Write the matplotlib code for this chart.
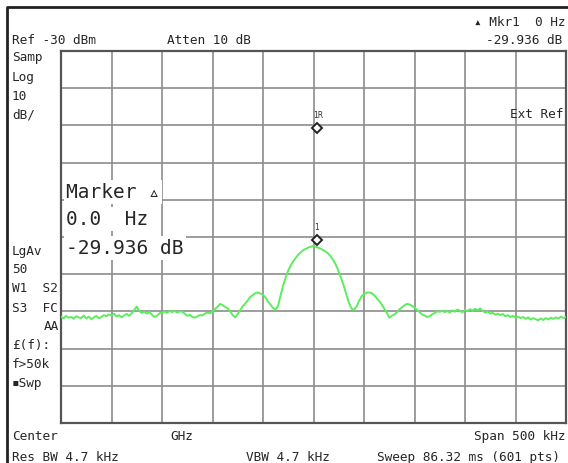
import numpy as np
import matplotlib
matplotlib.use("Agg")
import matplotlib.pyplot as plt

# Analyzer settings
ref_level = -30.0       # dBm, top of screen
db_per_div = 10.0
span_khz = 500.0

# Trace, 2.5 kHz steps from -250 kHz to +250 kHz (dBm)
trace_dbm = [
    -101.4, -101.9, -101.2, -101.7, -101.5, -102.0, -101.3, -101.6, -101.8, -101.1,
    -101.9, -101.4, -102.1, -101.6, -101.2, -101.9, -101.5, -101.0, -101.3, -100.8,
    -101.1, -100.6, -101.4, -101.0, -101.6, -101.1, -100.7, -101.2, -100.5, -99.6,
    -98.7, -99.9, -100.4, -100.1, -100.6, -100.2, -100.9, -101.5, -101.2, -100.5,
    -100.3, -100.0, -100.4, -99.8, -100.2, -99.9, -100.3, -100.0, -100.1, -100.6,
    -101.2, -100.9, -101.5, -101.7, -101.3, -101.0, -101.1, -100.6, -100.3, -100.5,
    -100.0, -99.4, -98.7, -98.0, -98.3, -98.8, -99.2, -100.0, -101.0, -101.6,
    -100.7, -99.6, -98.6, -97.9, -97.0, -96.1, -95.6, -95.1, -94.9, -95.2,
    -95.5, -96.3, -97.4, -98.2, -99.1, -99.6, -98.4, -95.6, -93.0, -90.8,
    -89.0, -87.6, -86.5, -85.6, -84.7, -84.1, -83.5, -83.2, -82.8, -82.6,
    -82.4, -82.7, -82.9, -83.2, -83.6, -84.0, -84.6, -85.4, -86.4, -87.7,
    -89.3, -91.2, -93.2, -95.4, -97.6, -99.2, -99.6, -98.8, -97.2, -96.0,
    -95.3, -95.0, -94.9, -95.1, -95.6, -96.4, -97.2, -98.1, -99.2, -100.4,
    -101.7, -101.2, -100.8, -100.3, -99.5, -98.9, -98.4, -98.0, -98.1, -98.5,
    -99.0, -99.6, -100.2, -100.8, -101.1, -101.5, -101.3, -100.8, -100.4, -100.0,
    -100.1, -99.8, -100.2, -99.9, -100.3, -99.7, -100.1, -99.5, -99.9, -100.2,
    -99.6, -99.9, -99.4, -99.8, -99.3, -99.7, -99.2, -99.9, -100.3, -100.0,
    -100.6, -100.4, -100.9, -100.6, -101.0, -100.7, -101.3, -101.0, -101.5, -101.2,
    -101.7, -101.4, -101.8, -101.5, -102.0, -101.6, -102.2, -101.8, -102.1, -102.4,
    -101.9, -102.3, -101.8, -102.2, -101.7, -102.0, -101.6, -101.9, -101.4, -101.8,
    -101.5,
]

# Markers
marker_freq_khz = 3.0
marker_ref_dbm = -50.8
marker_delta_db = -29.936

freq_khz = np.linspace(-span_khz / 2, span_khz / 2, len(trace_dbm))

W, H = 568, 464
fig = plt.figure(figsize=(W / 100, H / 100), dpi=100)
fig.patch.set_facecolor("white")

# Screen area in pixels
left, right, top, bottom = 61, 566, 52, 424
ax = fig.add_axes([left / W, 1 - bottom / H, (right - left) / W, (bottom - top) / H])
ax.set_xlim(-span_khz / 2, span_khz / 2)
ax.set_ylim(ref_level - 10 * db_per_div, ref_level)
ax.set_xticks(np.linspace(-span_khz / 2, span_khz / 2, 11))
ax.set_yticks(np.linspace(ref_level - 10 * db_per_div, ref_level, 11))
ax.tick_params(length=0, labelbottom=False, labelleft=False)
ax.grid(True, color="#8c8c8c", lw=1.2)
ax.set_axisbelow(True)
for s in ax.spines.values():
    s.set_color("#555555")
    s.set_linewidth(1.6)

ax.plot(freq_khz, trace_dbm, color="#5ced5c", lw=1.4, zorder=3)

# Markers
m1 = marker_ref_dbm + marker_delta_db
ax.plot([marker_freq_khz, marker_freq_khz], [marker_ref_dbm, m1], ls="none",
        marker="D", ms=5, mfc="white", mec="#222222", mew=1.4, zorder=5)
ax.annotate("1R", (marker_freq_khz, marker_ref_dbm), xytext=(1, 8),
            textcoords="offset points", ha="center", fontsize=5.5,
            color="#333333", family="DejaVu Sans")
ax.annotate("1", (marker_freq_khz, m1), xytext=(0, 8),
            textcoords="offset points", ha="center", fontsize=5.5,
            color="#333333", family="DejaVu Sans")

fonts = ["DejaVu Sans Mono", "DejaVu Sans"]
tc = "#262626"


def label(x, y, s, ha="left", size=9.2, **kw):
    fig.text(x / W, 1 - y / H, s, ha=ha, va="center", fontsize=size,
             family=fonts, color=tc, **kw)


# Header
label(565, 22, "\u25b4 Mkr1  0 Hz", ha="right")
label(12, 41, "Ref -30 dBm")
label(167, 41, "Atten 10 dB")
label(562, 41, "-29.936 dB", ha="right")

# Left column
for y, s in [(58, "Samp"), (77, "Log"), (96, "10"), (115, "dB/"),
             (251, "LgAv"), (270, "50"), (289, "W1  S2"), (308, "S3  FC"),
             (346, "\u00a3(f):"), (365, "f>50k"), (384, "\u25aaSwp")]:
    label(12, y, s)
label(59, 327, "AA", ha="right")
label(563, 115, "Ext Ref", ha="right")

# Marker readout
box = dict(facecolor="white", edgecolor="none", pad=1.5)
label(66, 193, "Marker \u25b5", size=14, bbox=box)
label(66, 220, "0.0  Hz", size=14, bbox=box)
label(66, 249, "-29.936 dB", size=14, bbox=box)

# Footer
label(12, 437, "Center")
label(170, 437, "GHz")
label(565, 437, "Span 500 kHz", ha="right")
label(12, 458, "Res BW 4.7 kHz")
label(246, 458, "VBW 4.7 kHz")
label(560, 458, "Sweep 86.32 ms (601 pts)", ha="right")

# Outer frame of the screen
fig.add_artist(plt.Line2D([7 / W, 7 / W, 1], [0, 1 - 8 / H, 1 - 8 / H],
                          transform=fig.transFigure, color="#222222", lw=2))

fig.savefig("out.png", dpi=100)
